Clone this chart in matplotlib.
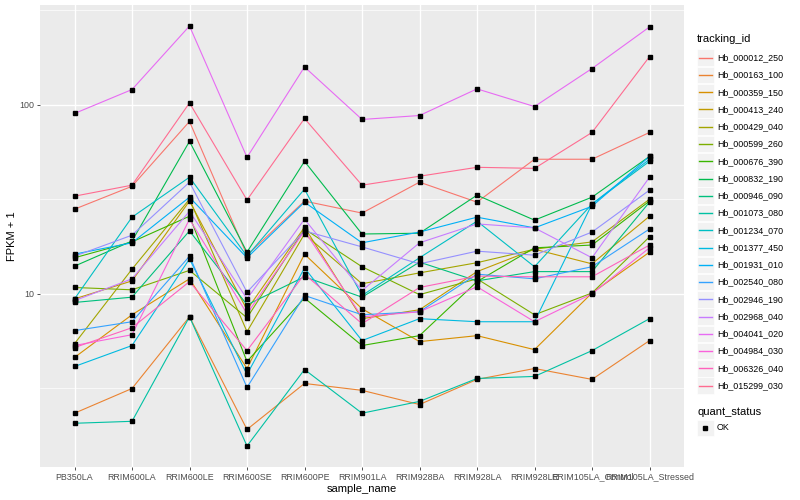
import matplotlib
matplotlib.use("Agg")
import matplotlib.pyplot as plt
from matplotlib.patches import Rectangle
from matplotlib.lines import Line2D
import numpy as np

plt.rcParams['font.family'] = ['Liberation Sans', 'DejaVu Sans']

samples = ['PB350LA', 'RRIM600LA', 'RRIM600LE', 'RRIM600SE', 'RRIM600PE', 'RRIM901LA',
           'RRIM928BA', 'RRIM928LA', 'RRIM928LE', 'RRIM105LA_Control', 'RRIM105LA_Stressed']

tracking_ids = ['Hb_000012_250', 'Hb_000163_100', 'Hb_000359_150', 'Hb_000413_240',
                'Hb_000429_040', 'Hb_000599_260', 'Hb_000676_390', 'Hb_000832_190',
                'Hb_000946_090', 'Hb_001073_080', 'Hb_001234_070', 'Hb_001377_450',
                'Hb_001931_010', 'Hb_002540_080', 'Hb_002946_190', 'Hb_002968_040',
                'Hb_004041_020', 'Hb_004984_030', 'Hb_006326_040', 'Hb_015299_030']

# FPKM + 1 per sample
hb_000012_250 = [28.0, 37.0, 81.4, 16.0, 30.9, 26.7, 38.9, 30.5, 51.4, 51.4, 71.2]
hb_000163_100 = [2.34, 3.16, 7.56, 1.92, 3.36, 3.09, 2.60, 3.53, 4.03, 3.53, 5.66]
hb_000359_150 = [4.61, 7.75, 12.0, 4.03, 16.2, 8.34, 5.59, 6.01, 5.07, 10.1, 16.6]
hb_000413_240 = [9.4, 11.7, 30.9, 8.24, 22.5, 7.39, 8.24, 13.1, 17.2, 14.4, 25.7]
hb_000429_040 = [5.45, 13.5, 31.6, 6.31, 20.7, 11.3, 12.9, 14.6, 17.2, 18.8, 31.6]
hb_000599_260 = [10.8, 10.5, 13.3, 7.47, 22.0, 13.9, 9.9, 12.0, 7.75, 10.1, 20.0]
hb_000676_390 = [15.5, 18.8, 25.7, 4.39, 9.5, 5.33, 6.01, 11.6, 17.5, 18.1, 30.9]
hb_000832_190 = [14.0, 19.0, 63.9, 16.6, 50.1, 20.7, 20.9, 33.2, 24.5, 32.4, 53.2]
hb_000946_090 = [9.0, 9.6, 21.5, 8.75, 12.3, 9.6, 14.7, 11.7, 13.1, 13.1, 30.5]
hb_001073_080 = [2.07, 2.12, 7.56, 1.57, 3.98, 2.34, 2.70, 3.57, 3.66, 5.01, 7.39]
hb_001234_070 = [9.4, 25.4, 41.3, 15.8, 35.7, 9.8, 15.5, 24.2, 13.9, 29.8, 50.1]
hb_001377_450 = [4.13, 5.33, 15.3, 3.75, 13.7, 5.66, 7.39, 7.12, 7.12, 29.8, 51.4]
hb_001931_010 = [16.2, 18.6, 32.4, 15.5, 30.5, 18.6, 21.2, 25.4, 22.3, 29.0, 53.2]
hb_002540_080 = [6.39, 7.12, 15.8, 3.20, 9.8, 7.75, 8.04, 12.7, 12.0, 13.9, 22.0]
hb_002946_190 = [15.8, 20.4, 38.9, 10.2, 21.5, 17.7, 14.4, 16.8, 16.0, 21.2, 35.3]
hb_002968_040 = [9.2, 12.0, 27.3, 9.4, 24.8, 10.4, 18.6, 23.4, 22.3, 15.5, 41.3]
hb_004041_020 = [89.7, 120, 260, 52.6, 158, 83.4, 87.5, 121, 97.6, 155, 257]
hb_004984_030 = [5.33, 6.08, 24.8, 7.85, 21.5, 7.56, 8.04, 10.9, 7.12, 10.0, 17.5]
hb_006326_040 = [5.20, 6.62, 11.6, 5.01, 12.7, 6.95, 10.8, 12.4, 12.3, 12.3, 18.1]
hb_015299_030 = [32.8, 37.5, 102, 31.3, 84.4, 37.5, 41.8, 46.6, 46.0, 71.2, 179]

series = [hb_000012_250, hb_000163_100, hb_000359_150, hb_000413_240, hb_000429_040,
          hb_000599_260, hb_000676_390, hb_000832_190, hb_000946_090, hb_001073_080,
          hb_001234_070, hb_001377_450, hb_001931_010, hb_002540_080, hb_002946_190,
          hb_002968_040, hb_004041_020, hb_004984_030, hb_006326_040, hb_015299_030]

# ggplot2 default hue palette for 20 levels
colors = ['#F8766D', '#EA8331', '#D89000', '#C09B00', '#A3A500', '#7CAE00', '#39B600',
          '#00BB4E', '#00BF7D', '#00C1A3', '#00BFC4', '#00BAE0', '#00B0F6', '#35A2FF',
          '#9590FF', '#C77CFF', '#E76BF3', '#FA62DB', '#FF62BC', '#FF6C91']

W, H = 800, 500
fig = plt.figure(figsize=(8, 5), dpi=100)
ax = fig.add_axes([40 / W, 33 / H, 644 / W, 462 / H])
ax.set_facecolor('#EBEBEB')

x = np.arange(len(samples))
for vals, col in zip(series, colors):
    ax.plot(x, vals, color=col, lw=0.8, zorder=2)
for vals in series:
    ax.plot(x, vals, ls='none', marker='s', ms=2.2, color='black', zorder=3)

ax.set_yscale('log')
allv = np.concatenate([np.array(s, dtype=float) for s in series])
lo, hi = np.log10(allv.min()), np.log10(allv.max())
pad = 0.05 * (hi - lo)
ax.set_ylim(10 ** (lo - pad), 10 ** (hi + pad))
ax.set_xlim(-0.6, len(samples) - 0.4)

ax.set_yticks([10, 100])
ax.set_yticklabels(['10', '100'])
ax.set_yticks([10 ** 0.5, 10 ** 1.5, 10 ** 2.5], minor=True)
ax.set_xticks(x)
ax.set_xticklabels(samples)
ax.xaxis.set_minor_locator(matplotlib.ticker.NullLocator())

ax.grid(which='major', color='white', lw=1.0)
ax.grid(which='minor', axis='y', color='white', lw=0.5)
ax.set_axisbelow(True)
for sp in ax.spines.values():
    sp.set_visible(False)
ax.tick_params(which='major', length=2.2, width=0.6, color='#333333',
               labelsize=6.4, labelcolor='#4D4D4D', pad=1.8)
ax.tick_params(which='minor', length=0)

ax.set_xlabel('sample_name', fontsize=8, labelpad=2)
ax.set_ylabel('FPKM + 1', fontsize=8, labelpad=2)

# legends drawn in figure pixels, ggplot style
def fx(px):
    return px / W

def fy(py):
    return 1 - py / H

fig.text(fx(697), fy(39), 'tracking_id', fontsize=8, va='center', ha='left')
step = 17.26
for i, (name, col) in enumerate(zip(tracking_ids, colors)):
    cy = 57.7 + i * step
    fig.add_artist(Rectangle((fx(697), fy(cy + 8.3)), 16.6 / W, 16.6 / H,
                             transform=fig.transFigure, facecolor='#F2F2F2',
                             edgecolor='white', lw=0.5))
    fig.add_artist(Line2D([fx(699), fx(712)], [fy(cy), fy(cy)], color=col, lw=1.0,
                          transform=fig.transFigure))
    fig.text(fx(717), fy(cy), name, fontsize=6.4, va='center', ha='left')

fig.text(fx(697), fy(412), 'quant_status', fontsize=8, va='center', ha='left')
fig.add_artist(Rectangle((fx(697), fy(428 + 8.3)), 16.6 / W, 16.6 / H,
                         transform=fig.transFigure, facecolor='#F2F2F2',
                         edgecolor='white', lw=0.5))
fig.add_artist(Line2D([fx(705.3)], [fy(428)], ls='none', marker='s', ms=2.2,
                      color='black', transform=fig.transFigure))
fig.text(fx(717), fy(428), 'OK', fontsize=6.4, va='center', ha='left')

fig.savefig('out.png', dpi=100, facecolor='white')
